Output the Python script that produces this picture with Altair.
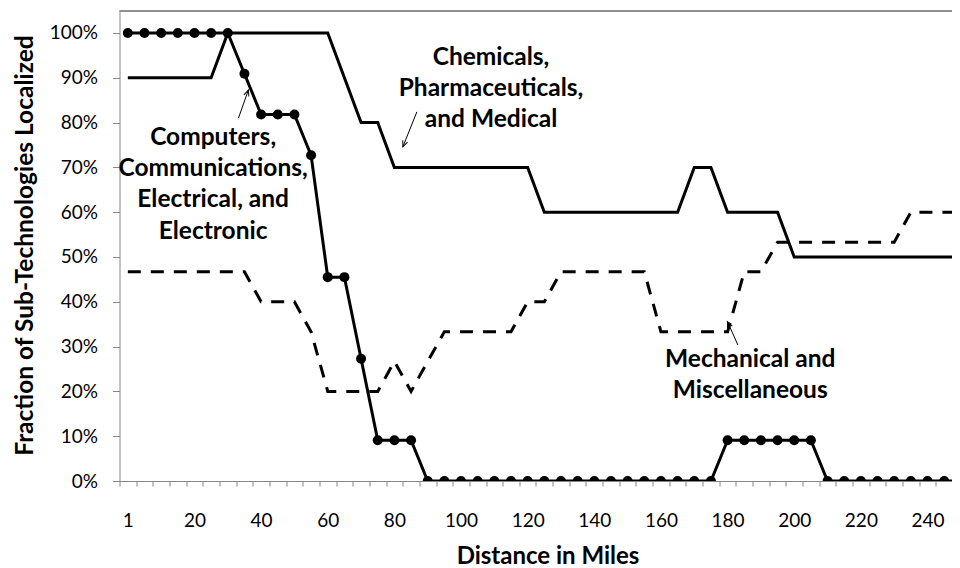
import altair as alt
import pandas as pd

# ---- data ----
miles = [1, 5, 10, 15, 20, 25, 30, 35, 40, 45, 50, 55, 60, 65, 70, 75, 80, 85, 90, 95,
         100, 105, 110, 115, 120, 125, 130, 135, 140, 145, 150, 155, 160, 165, 170, 175,
         180, 185, 190, 195, 200, 205, 210, 215, 220, 225, 230, 235, 240, 245, 250]

computers = [100, 100, 100, 100, 100, 100, 100, 90.9, 81.8, 81.8, 81.8, 72.7, 45.5, 45.5,
             27.3, 9.1, 9.1, 9.1, 0, 0, 0, 0, 0, 0, 0, 0, 0, 0, 0, 0, 0, 0, 0, 0, 0, 0,
             9.1, 9.1, 9.1, 9.1, 9.1, 9.1, 0, 0, 0, 0, 0, 0, 0, 0, 0]

chemicals = [90, 90, 90, 90, 90, 90, 100, 100, 100, 100, 100, 100, 100, 90, 80, 80,
             70, 70, 70, 70, 70, 70, 70, 70, 70, 60, 60, 60, 60, 60, 60, 60, 60, 60,
             70, 70, 60, 60, 60, 60, 50, 50, 50, 50, 50, 50, 50, 50, 50, 50, 50]

mechanical = [46.7, 46.7, 46.7, 46.7, 46.7, 46.7, 46.7, 46.7, 40, 40, 40, 33.3, 20, 20,
              20, 20, 26.7, 20, 26.7, 33.3, 33.3, 33.3, 33.3, 33.3, 40, 40, 46.7, 46.7,
              46.7, 46.7, 46.7, 46.7, 33.3, 33.3, 33.3, 33.3, 33.3, 46.7, 46.7, 53.3, 53.3,
              53.3, 53.3, 53.3, 53.3, 53.3, 53.3, 60, 60, 60, 60]

y_ticks = [0, 10, 20, 30, 40, 50, 60, 70, 80, 90, 100]

# annotation labels (positions in category-index / percent units; y = first line)
label_text = ["Chemicals,\nPharmaceuticals,\nand Medical",
              "Computers,\nCommunications,\nElectrical, and\nElectronic",
              "Mechanical and\nMiscellaneous"]
label_x = [21.8, 5.12, 37.36]
label_y = [94.5, 76.6, 27.0]

arrow_x = [17.35, 6.64, 36.62]
arrow_y = [82.4, 81.0, 30.36]
arrow_x2 = [16.51, 7.24, 35.99]
arrow_y2 = [74.6, 87.3, 35.56]
arrow_angle = [201.8, 19.5, 336.0]

# ---- tables ----
idx = list(range(len(miles)))
df_comp = pd.DataFrame({"idx": idx, "miles": miles, "value": computers})
df_chem = pd.DataFrame({"idx": idx, "miles": miles, "value": chemicals})
df_mech = pd.DataFrame({"idx": idx, "miles": miles, "value": mechanical})
df_lab = pd.DataFrame({"x": label_x, "y": label_y, "text": label_text})
df_arr = pd.DataFrame({"x": arrow_x, "y": arrow_y, "x2": arrow_x2, "y2": arrow_y2,
                       "angle": arrow_angle})

FONT = "Lato"
GRAY = "#868686"
PLOT_W = 832.5
PLOT_H = 470

x_scale = alt.Scale(domain=[-0.5, 49.47], nice=False, zero=False)
y_scale = alt.Scale(domain=[0, 104.91], nice=False, zero=True)

x_axis = alt.Axis(
    values=[k - 0.5 for k in range(50)],
    labelExpr="(datum.value + 0.5) % 4 == 0 ? ((datum.value + 0.5) == 0 ? '1' : '' + 5 * (datum.value + 0.5)) : ''",
    labelOffset=8.33, labelOverlap=False, labelFlush=False, labelBound=False,
    tickSize=5, tickColor=GRAY, domainColor=GRAY, grid=False,
    labelFont=FONT, labelFontSize=19, labelColor="black", labelPadding=25,
    title="Distance in Miles", titleFont=FONT, titleFontSize=24, titleFontWeight="bold",
    titleColor="black", titleX=428, titleY=75, titleBaseline="middle", titleAlign="center",
)
y_axis = alt.Axis(
    values=y_ticks, labelExpr="datum.value + '%'",
    tickSize=7, tickColor=GRAY, domainColor=GRAY, grid=False,
    labelFont=FONT, labelFontSize=19, labelColor="black", labelPadding=15,
    title="Fraction of Sub-Technologies Localized", titleFont=FONT, titleFontSize=24.5,
    titleFontWeight="bold", titleColor="black", titleX=-94, titleY=234,
    titleBaseline="middle", titleAlign="center", titleAngle=270,
)


def X(field):
    return alt.X(field, type="quantitative", scale=x_scale, axis=x_axis)


def Y(field):
    return alt.Y(field, type="quantitative", scale=y_scale, axis=y_axis)


mech = alt.Chart(df_mech).mark_line(
    color="black", strokeWidth=3, strokeDash=[13, 10], clip=True
).encode(x=X("idx"), y=Y("value"))

chem = alt.Chart(df_chem).mark_line(color="black", strokeWidth=3, clip=True).encode(
    x=X("idx"), y=Y("value"))

comp = alt.Chart(df_comp).mark_line(color="black", strokeWidth=3, clip=True).encode(
    x=X("idx"), y=Y("value"))

comp_pts = alt.Chart(df_comp).mark_circle(color="black", size=100, opacity=1, clip=True).encode(
    x=X("idx"), y=Y("value"))

labels = alt.Chart(df_lab).mark_text(
    font=FONT, fontSize=24.5, fontWeight="bold", color="black", lineBreak="\n",
    lineHeight=31.3, align="center", baseline="middle",
).encode(x=X("x"), y=Y("y"), text="text:N")

arrows = alt.Chart(df_arr).mark_rule(color="black", strokeWidth=1).encode(
    x=X("x"), y=Y("y"), x2="x2:Q", y2="y2:Q")

heads = alt.Chart(df_arr).mark_point(
    shape="M -0.42 1 L 0 0 L 0.42 1", filled=False, color="black", strokeWidth=1,
    size=150, opacity=1,
).encode(x=X("x2"), y=Y("y2"), angle=alt.Angle("angle:Q", scale=None))

# top border of the plot frame
frame_top = alt.Chart(df_lab).mark_rule(color="#808080", strokeWidth=1).encode(
    x=alt.value(0), x2=alt.value(PLOT_W + 10), y=alt.value(0))

chart = alt.layer(mech, chem, comp, comp_pts, labels, arrows, heads, frame_top).properties(
    width=PLOT_W, height=PLOT_H,
    autosize=alt.AutoSizeParams(type="none"),
    padding={"left": 111.5, "top": 3, "right": 0, "bottom": 87},
    background="white",
).configure_view(strokeWidth=0, stroke=None)

chart.save("out.html", embed_options={"renderer": "svg", "actions": False})
